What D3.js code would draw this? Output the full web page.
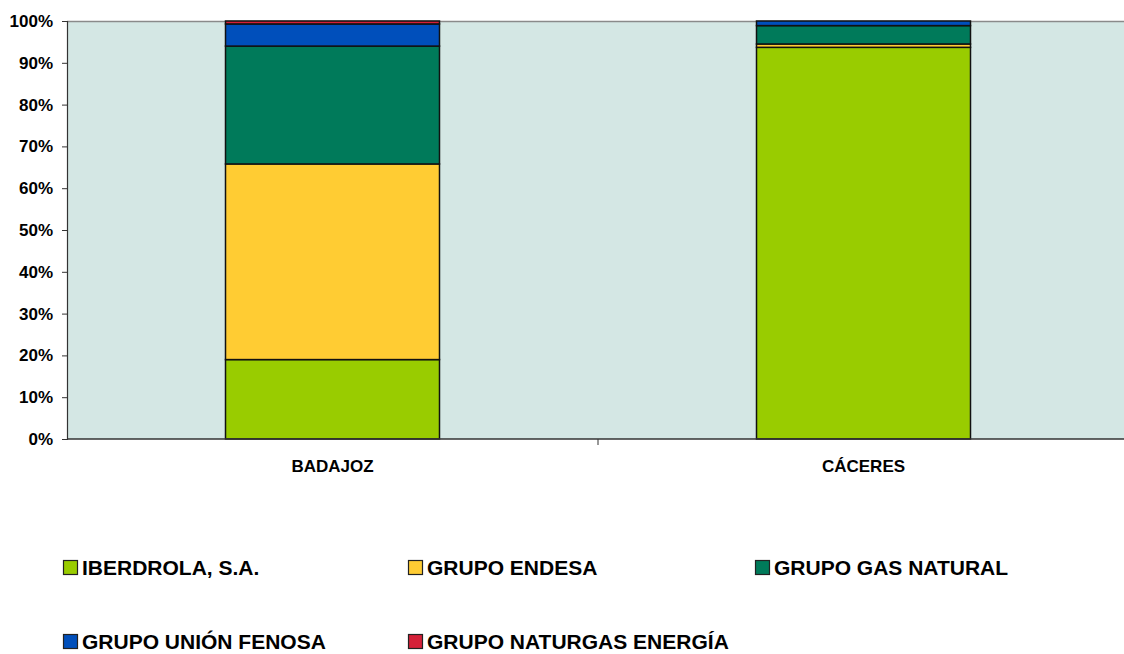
<!DOCTYPE html>
<html><head><meta charset="utf-8">
<script src="https://cdn.jsdelivr.net/npm/d3@7"></script>
<style>body{margin:0;background:#fff}svg{display:block}text{font-family:"Liberation Sans",Arial,sans-serif;font-weight:bold;fill:#000}</style>
</head><body><svg id="c" width="1124" height="654"></svg>
<script>
const categories = ["BADAJOZ", "CÁCERES"];
const seriesNames = ["IBERDROLA, S.A.", "GRUPO ENDESA", "GRUPO GAS NATURAL", "GRUPO UNIÓN FENOSA", "GRUPO NATURGAS ENERGÍA"];
const iberdrola = [19.0, 93.7];
const endesa = [46.8, 0.8];
const gasNatural = [28.2, 4.4];
const unionFenosa = [5.3, 1.1];
const naturgas = [0.7, 0.0];
const colors = ["#99CC00", "#FFCC33", "#007A5A", "#004FBB", "#D42038"];
const yTicks = [0, 10, 20, 30, 40, 50, 60, 70, 80, 90, 100];

const seriesValues = [iberdrola, endesa, gasNatural, unionFenosa, naturgas];
const rows = categories.map((c, i) => {
  const r = {cat: c};
  seriesNames.forEach((s, j) => r[s] = seriesValues[j][i]);
  return r;
});
const stack = d3.stack().keys(seriesNames).offset(d3.stackOffsetExpand)(rows);

const svg = d3.select("#c");
const L = 67, T = 21, B = 439, R = 1129;
const x = d3.scaleBand().domain(categories).range([L, R]).paddingInner(0.597).paddingOuter(0.2985);
const y = d3.scaleLinear().domain([0, 1]).range([B, T]);

svg.append("rect").attr("x", L).attr("y", T).attr("width", R - L).attr("height", B - T).attr("fill", "#D4E7E4");
svg.append("line").attr("x1", L).attr("x2", 1124).attr("y1", T + 0.5).attr("y2", T + 0.5).attr("stroke", "#8a8a8a").attr("stroke-width", 1.5);

const g = svg.append("g");
stack.forEach((layer, k) => {
  g.selectAll(null).data(layer).enter().append("rect")
    .attr("x", d => x(d.data.cat))
    .attr("width", x.bandwidth())
    .attr("y", d => y(d[1]))
    .attr("height", d => y(d[0]) - y(d[1]))
    .attr("fill", colors[k])
    .attr("stroke", "#111")
    .attr("stroke-width", 1.5);
});

// y axis
const ya = svg.append("g").attr("transform", `translate(${L},0)`)
  .call(d3.axisLeft(y).tickValues(yTicks.map(v => v / 100)).tickFormat((d, i) => yTicks[i] + "%").tickSize(5).tickPadding(9));
ya.select(".domain").attr("stroke", "#333").attr("stroke-width", 1.2);
ya.selectAll(".tick line").attr("stroke", "#333");
ya.selectAll("text").attr("font-size", 17).attr("font-family", '"Liberation Sans",Arial,sans-serif').attr("font-weight", "bold").attr("fill", "#000");

// x axis
const xa = svg.append("g").attr("transform", `translate(0,${B})`);
xa.append("line").attr("x1", L).attr("x2", 1124).attr("stroke", "#333").attr("stroke-width", 1.5);
const xOuter = d3.scaleBand().domain(categories).range([L, R]);
xa.selectAll(null).data(categories.slice(1)).enter().append("line")
  .attr("x1", d => xOuter(d)).attr("x2", d => xOuter(d)).attr("y1", 0).attr("y2", 6).attr("stroke", "#333");
xa.selectAll(null).data(categories).enter().append("text")
  .attr("x", d => x(d) + x.bandwidth() / 2).attr("y", 33)
  .attr("text-anchor", "middle").attr("font-size", 17).text(d => d);

// legend
const legPos = [[63, 560], [408, 560], [755, 560], [63, 634], [408, 634]];
seriesNames.forEach((s, i) => {
  const [lx, ly] = legPos[i];
  svg.append("rect").attr("x", lx + 0.5).attr("y", ly + 0.5).attr("width", 14).attr("height", 14)
    .attr("fill", colors[i]).attr("stroke", "#222").attr("stroke-width", 1.2);
  svg.append("text").attr("x", lx + 19).attr("y", ly + 15).attr("font-size", 21).text(s);
});
</script></body></html>
